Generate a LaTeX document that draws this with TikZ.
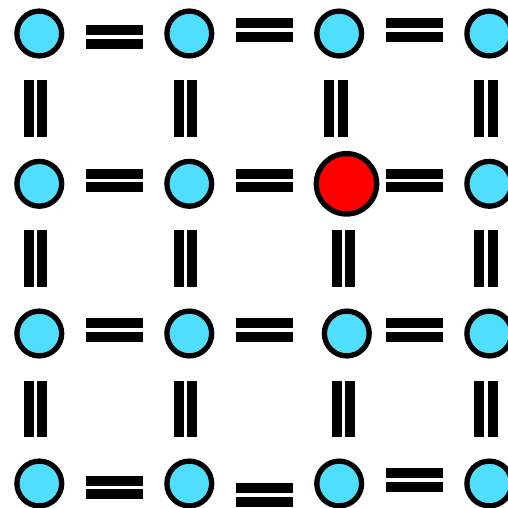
\documentclass[tikz,border=0pt]{standalone}
\definecolor{siteblue}{RGB}{80,222,255}
\begin{document}
\begin{tikzpicture}[x=1pt,y=-1pt,
  site/.style={circle,draw=black,line width=5.3pt,fill=siteblue,minimum size=44.8pt,inner sep=0pt},
  redsite/.style={site,fill=red,minimum size=60.4pt},
  hbar/.style={rectangle,fill=black,minimum width=56.7pt,minimum height=10pt,inner sep=0pt},
  vbar/.style={rectangle,fill=black,minimum width=10pt,minimum height=56.7pt,inner sep=0pt}]
\useasboundingbox (0,0) rectangle (508,507);
\clip (0,0) rectangle (508,507);
% sites
\node[site] (s00) at (39.3,33.5) {};
\node[site] (s10) at (189.3,33.5) {};
\node[site] (s20) at (339.2,33.5) {};
\node[site] (s30) at (489.3,33.5) {};
\node[site] (s01) at (39.3,183.8) {};
\node[site] (s11) at (189.3,183.8) {};
\node[redsite] (s21) at (346.5,183.8) {};
\node[site] (s31) at (489.3,183.8) {};
\node[site] (s02) at (39.3,333.5) {};
\node[site] (s12) at (189.3,333.5) {};
\node[site] (s22) at (346.8,333.5) {};
\node[site] (s32) at (489.3,333.5) {};
\node[site] (s03) at (39.3,483.5) {};
\node[site] (s13) at (189.3,483.5) {};
\node[site] (s23) at (339.2,483.5) {};
\node[site] (s33) at (489.3,483.5) {};
% horizontal double bonds
\foreach \cx/\cy/\n in {114.7/37/a0, 264.8/30/b0, 414.7/30/c0,
                       114.7/180.3/a1, 264.8/180.3/b1, 414.7/180.3/c1,
                       114.7/330/a2, 264.8/330/b2, 414.7/330/c2,
                       114.7/487.3/a3, 264.8/495/b3, 414.7/480/c3}{
  \node[hbar] (h\n u) at (\cx,\cy-6.7) {};
  \node[hbar] (h\n d) at (\cx,\cy+6.7) {};
}
% vertical double bonds
\foreach \cx/\cy/\n in {35.7/108.7/a0, 35.7/258.7/a1, 35.7/409/a2,
                       185.7/108.7/b0, 185.7/258.7/b1, 185.7/409/b2,
                       336/108.7/c0, 343.7/258.7/c1, 343.7/409/c2,
                       486/108.7/d0, 486/258.7/d1, 486/409/d2}{
  \node[vbar] (v\n l) at (\cx-6.7,\cy) {};
  \node[vbar] (v\n r) at (\cx+6.7,\cy) {};
}
\end{tikzpicture}
\end{document}
